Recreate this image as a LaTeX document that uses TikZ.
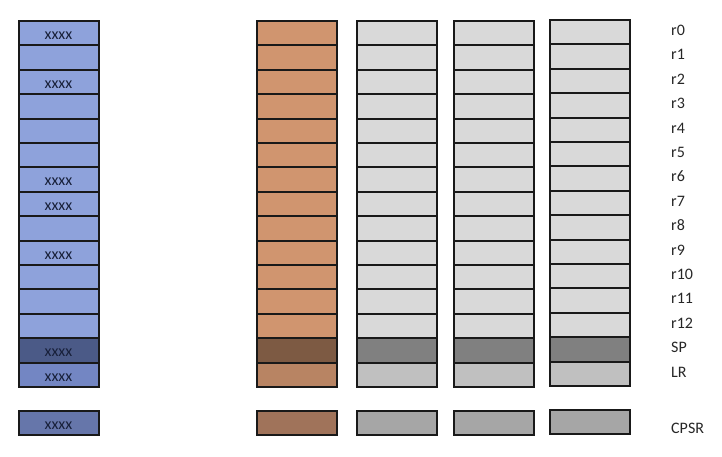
\documentclass[tikz,border=0pt]{standalone}
\usepackage{fontspec}
\setmainfont{Carlito}
\definecolor{blueA}{HTML}{8EA2DB}
\definecolor{blueSP}{HTML}{4B5A87}
\definecolor{blueLR}{HTML}{7386C3}
\definecolor{blueCP}{HTML}{6676AA}
\definecolor{orgA}{HTML}{D0956F}
\definecolor{orgSP}{HTML}{7D5A43}
\definecolor{orgLR}{HTML}{B88463}
\definecolor{orgCP}{HTML}{A0735A}
\definecolor{grA}{HTML}{D9D9D9}
\definecolor{grSP}{HTML}{808080}
\definecolor{grLR}{HTML}{C0C0C0}
\definecolor{grCP}{HTML}{A6A6A6}
\definecolor{xtext}{HTML}{18203A}
\newcommand{\xx}{\raisebox{-6.2pt}[0pt][0pt]{xxxx}}
\tikzset{
  cell/.style={draw=black!90, line width=2pt, minimum width=80pt, minimum height=24.4pt, inner sep=0pt, outer sep=0pt, anchor=north west, font=\fontsize{16}{16}\selectfont, text=xtext},
  reglabel/.style={anchor=base west, inner sep=0pt, font=\fontsize{16}{16}\selectfont, text=black!85}
}
\begin{document}
\begin{tikzpicture}[x=1pt,y=-1pt]
\useasboundingbox (0,0) rectangle (722,456);
% column 1 (blue)
\foreach \i/\t in {0/\xx,1/,2/\xx,3/,4/,5/,6/\xx,7/\xx,8/,9/\xx,10/,11/,12/}{
  \node[cell, fill=blueA] (b\i) at (18.5,{21+24.4*\i}) {\t};
}
\node[cell, fill=blueSP] (bSP) at (18.5,{21+24.4*13}) {\xx};
\node[cell, fill=blueLR] (bLR) at (18.5,{21+24.4*14}) {\xx};
\node[cell, fill=blueCP] (bCP) at (18.5,411) {\xx};
% column 2 (orange)
\foreach \i in {0,...,12}{
  \node[cell, fill=orgA] (o\i) at (256.5,{21+24.4*\i}) {};
}
\node[cell, fill=orgSP] (oSP) at (256.5,{21+24.4*13}) {};
\node[cell, fill=orgLR] (oLR) at (256.5,{21+24.4*14}) {};
\node[cell, fill=orgCP] (oCP) at (256.5,411) {};
% gray columns
\foreach \c/\x/\y in {a/356.5/21,b/453.5/21,c/549.5/20}{
  \foreach \i in {0,...,12}{
    \node[cell, fill=grA] (g\c\i) at (\x,{\y+24.4*\i}) {};
  }
  \node[cell, fill=grSP] (g\c SP) at (\x,{\y+24.4*13}) {};
  \node[cell, fill=grLR] (g\c LR) at (\x,{\y+24.4*14}) {};
  \node[cell, fill=grCP] (g\c CP) at (\x,{\y+390}) {};
}
% labels
\foreach \i in {0,...,12}{
  \node[reglabel] (l\i) at (671,{35.5+24.4*\i}) {r\i};
}
\node[reglabel] (lSP) at (671,{35.5+24.4*13}) {SP};
\node[reglabel] (lLR) at (671,{35.5+24.4*14}) {LR};
\node[reglabel] (lCP) at (671,433.5) {CPSR};
\end{tikzpicture}
\end{document}
